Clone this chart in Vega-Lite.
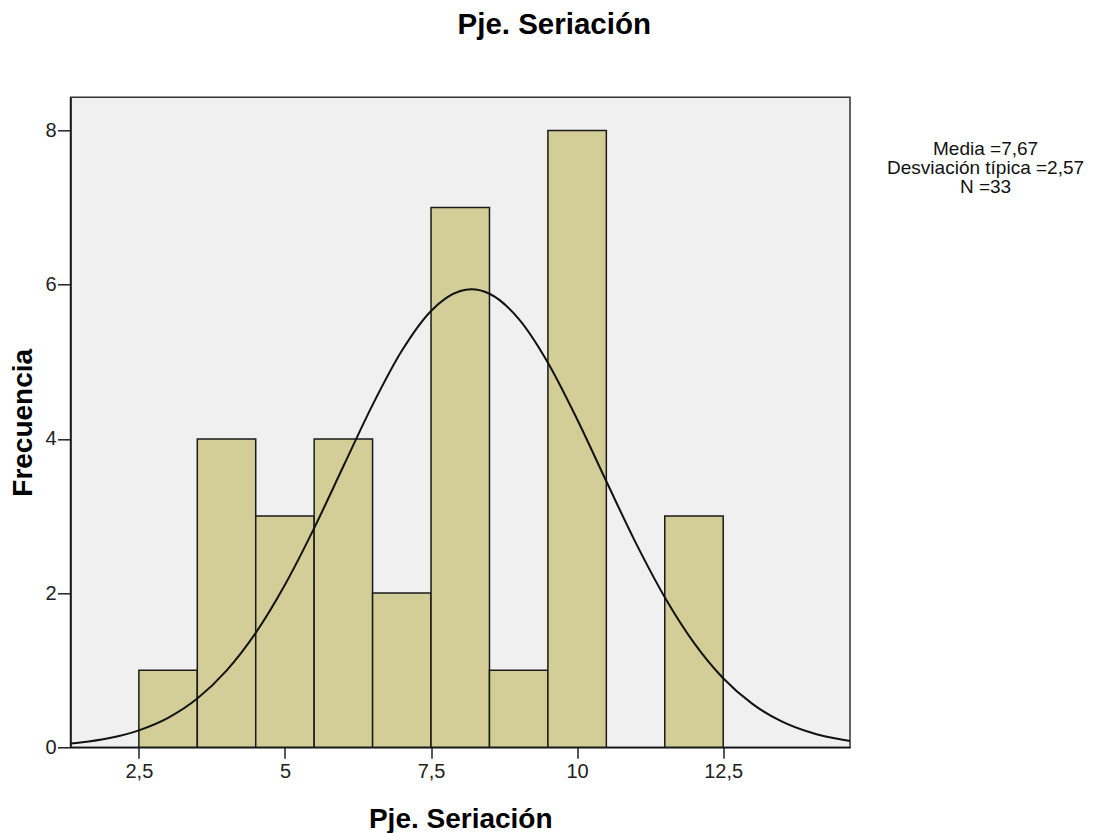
{
  "$schema": "https://vega.github.io/schema/vega-lite/v6.json",
  "width": 779.5,
  "height": 650,
  "autosize": {"type": "none"},
  "padding": {"left": 70.5, "top": 97.3, "right": 244, "bottom": 85.7},
  "background": "white",
  "config": {
    "font": "Liberation Sans",
    "view": {"fill": "#f0f0f0", "stroke": "#333333", "strokeWidth": 1.5}
  },
  "title": {
    "text": "Pje. Seriación",
    "fontSize": 29.5,
    "fontWeight": "bold",
    "color": "#000000",
    "offset": 57,
    "dx": 94,
    "anchor": "middle",
    "font": "Liberation Sans"
  },
  "datasets": {
    "bars": [
      {"lo": 2.5, "hi": 3.5, "count": 1},
      {"lo": 3.5, "hi": 4.5, "count": 4},
      {"lo": 4.5, "hi": 5.5, "count": 3},
      {"lo": 5.5, "hi": 6.5, "count": 4},
      {"lo": 6.5, "hi": 7.5, "count": 2},
      {"lo": 7.5, "hi": 8.5, "count": 7},
      {"lo": 8.5, "hi": 9.5, "count": 1},
      {"lo": 9.5, "hi": 10.5, "count": 8},
      {"lo": 11.5, "hi": 12.5, "count": 3}
    ],
    "curve": [
      {"x": 1.33, "y": 0.049},
      {"x": 1.5, "y": 0.062},
      {"x": 2.0, "y": 0.12},
      {"x": 2.5, "y": 0.22},
      {"x": 3.0, "y": 0.382},
      {"x": 3.5, "y": 0.632},
      {"x": 4.0, "y": 0.994},
      {"x": 4.5, "y": 1.484},
      {"x": 5.0, "y": 2.108},
      {"x": 5.5, "y": 2.843},
      {"x": 6.0, "y": 3.645},
      {"x": 6.5, "y": 4.441},
      {"x": 7.0, "y": 5.142},
      {"x": 7.5, "y": 5.659},
      {"x": 8.0, "y": 5.918},
      {"x": 8.19, "y": 5.94},
      {"x": 8.5, "y": 5.882},
      {"x": 9.0, "y": 5.556},
      {"x": 9.5, "y": 4.988},
      {"x": 10.0, "y": 4.255},
      {"x": 10.5, "y": 3.45},
      {"x": 11.0, "y": 2.658},
      {"x": 11.5, "y": 1.947},
      {"x": 12.0, "y": 1.355},
      {"x": 12.5, "y": 0.896},
      {"x": 13.0, "y": 0.563},
      {"x": 13.5, "y": 0.336},
      {"x": 14.0, "y": 0.191},
      {"x": 14.5, "y": 0.103},
      {"x": 14.67, "y": 0.083}
    ]
  },
  "layer": [
    {
      "data": {"name": "bars"},
      "mark": {"type": "bar", "orient": "vertical", "fill": "#d3ce97", "stroke": "#1a1a1a", "strokeWidth": 1.5},
      "encoding": {
        "x": {
          "field": "lo",
          "type": "quantitative",
          "scale": {"domain": [1.33, 14.67], "nice": false, "zero": false, "padding": 0},
          "axis": {
            "title": "Pje. Seriación",
            "values": [2.5, 5, 7.5, 10, 12.5],
            "labelExpr": "replace(toString(datum.value), '.', ',')",
            "grid": false,
            "tickSize": 11,
            "tickColor": "#222222",
            "tickWidth": 1.5,
            "domainColor": "#111111",
            "domainWidth": 1.5,
            "labelFontSize": 20,
            "labelColor": "#222222",
            "labelPadding": 3,
            "labelFlush": false,
            "titleFontSize": 28,
            "titleFontWeight": "bold",
            "titleColor": "#000000",
            "titlePadding": 24
          }
        },
        "x2": {"field": "hi"},
        "y": {
          "field": "count",
          "type": "quantitative",
          "scale": {"domain": [0, 8.43], "nice": false, "padding": 0},
          "axis": {
            "title": "Frecuencia",
            "values": [0, 2, 4, 6, 8],
            "format": "d",
            "grid": false,
            "tickSize": 13,
            "tickColor": "#222222",
            "tickWidth": 1.5,
            "domainColor": "#111111",
            "domainWidth": 1.5,
            "labelFontSize": 20,
            "labelColor": "#222222",
            "labelPadding": 1.5,
            "titleFontSize": 28,
            "titleFontWeight": "bold",
            "titleColor": "#000000",
            "titlePadding": 7
          }
        },
        "y2": {"datum": 0}
      }
    },
    {
      "data": {"name": "curve"},
      "mark": {"type": "line", "color": "#111111", "strokeWidth": 2, "interpolate": "monotone"},
      "encoding": {
        "x": {"field": "x", "type": "quantitative"},
        "y": {"field": "y", "type": "quantitative"}
      }
    },
    {
      "data": {"values": [{"label": "Media =7,67\nDesviación típica =2,57\nN =33"}]},
      "mark": {"type": "text", "align": "center", "baseline": "middle", "fontSize": 19, "lineBreak": "\n", "lineHeight": 19, "color": "#111111", "font": "Liberation Sans"},
      "encoding": {
        "text": {"field": "label"},
        "x": {"datum": 16.99, "type": "quantitative"},
        "y": {"datum": 7.76, "type": "quantitative"}
      }
    }
  ]
}
